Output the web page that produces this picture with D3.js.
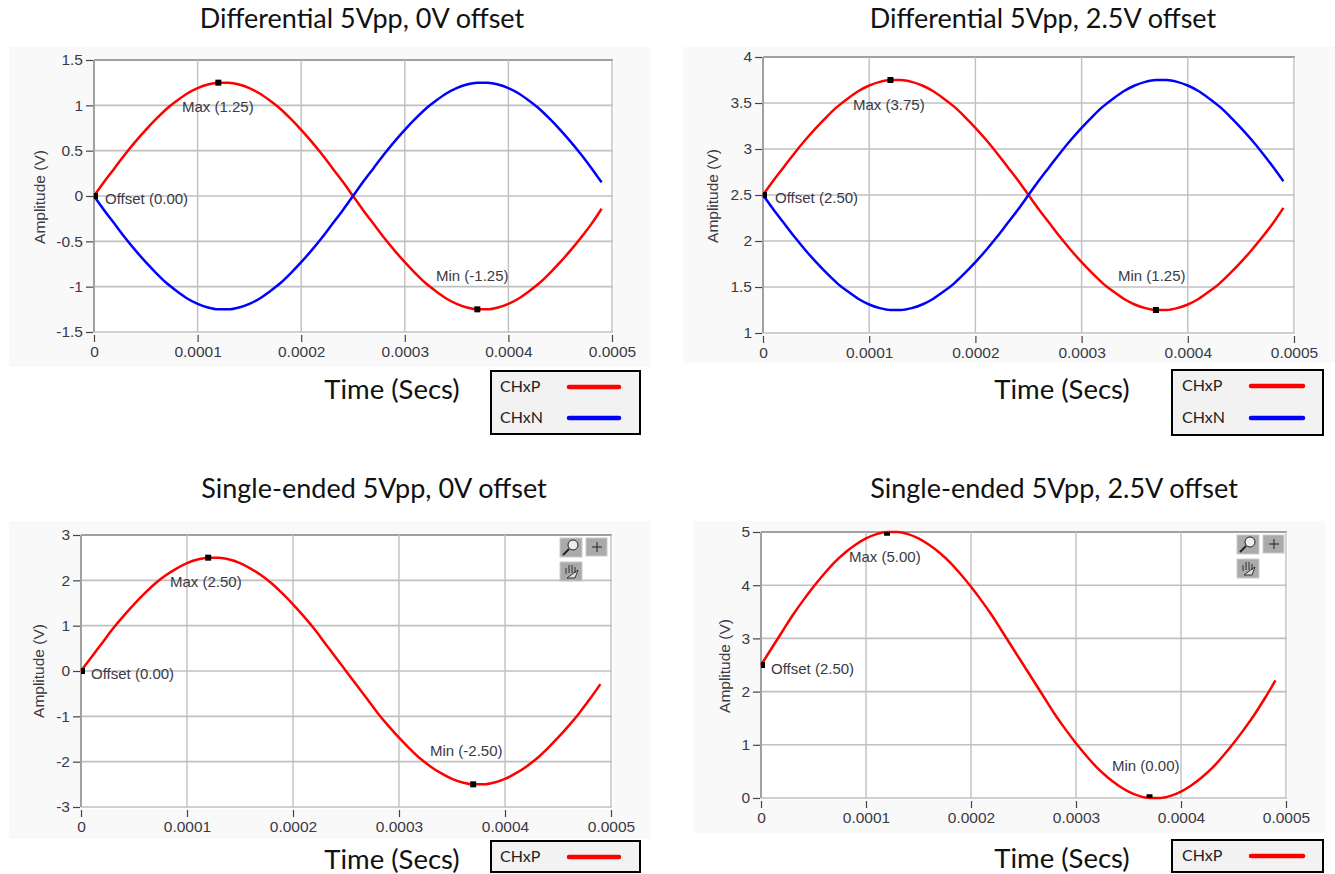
<!DOCTYPE html>
<html>
<head>
<meta charset="utf-8">
<script src="https://cdn.jsdelivr.net/npm/d3@7"></script>
<style>
  html, body { margin: 0; padding: 0; background: #fff; }
  svg { display: block; }
  .title, .time { font-family: Lato, "Open Sans", sans-serif; fill: #111; }
  .legend-text { font-family: Lato, "Open Sans", sans-serif; fill: #222; }
  .tick text, .note, .ylabel { font-family: "Liberation Sans", Arial, sans-serif; fill: #3a3a44; }
</style>
</head>
<body>
<svg id="chart" width="1335" height="874"></svg>
<script>
// 읽어낸 값: 10us 간격 샘플
const timeSecs = [0, 0.00001, 0.00002, 0.00003, 0.00004, 0.00005, 0.00006, 0.00007, 0.00008, 0.00009,
  0.0001, 0.00011, 0.00012, 0.00013, 0.00014, 0.00015, 0.00016, 0.00017, 0.00018, 0.00019,
  0.0002, 0.00021, 0.00022, 0.00023, 0.00024, 0.00025, 0.00026, 0.00027, 0.00028, 0.00029,
  0.0003, 0.00031, 0.00032, 0.00033, 0.00034, 0.00035, 0.00036, 0.00037, 0.00038, 0.00039,
  0.0004, 0.00041, 0.00042, 0.00043, 0.00044, 0.00045, 0.00046, 0.00047, 0.00048, 0.00049];

const diffP0 = [0, 0.16, 0.31, 0.46, 0.6, 0.73, 0.85, 0.96, 1.05, 1.13,
  1.19, 1.23, 1.25, 1.25, 1.23, 1.19, 1.13, 1.05, 0.96, 0.85,
  0.73, 0.6, 0.46, 0.31, 0.16, 0, -0.16, -0.31, -0.46, -0.6,
  -0.73, -0.85, -0.96, -1.05, -1.13, -1.19, -1.23, -1.25, -1.25, -1.23,
  -1.19, -1.13, -1.05, -0.96, -0.85, -0.73, -0.6, -0.46, -0.31, -0.14];
const diffN0 = [0, -0.16, -0.31, -0.46, -0.6, -0.73, -0.85, -0.96, -1.05, -1.13,
  -1.19, -1.23, -1.25, -1.25, -1.23, -1.19, -1.13, -1.05, -0.96, -0.85,
  -0.73, -0.6, -0.46, -0.31, -0.16, 0, 0.16, 0.31, 0.46, 0.6,
  0.73, 0.85, 0.96, 1.05, 1.13, 1.19, 1.23, 1.25, 1.25, 1.23,
  1.19, 1.13, 1.05, 0.96, 0.85, 0.73, 0.6, 0.46, 0.31, 0.15];
const diffP25 = [2.5, 2.66, 2.81, 2.96, 3.1, 3.23, 3.35, 3.46, 3.55, 3.63,
  3.69, 3.73, 3.75, 3.75, 3.73, 3.69, 3.63, 3.55, 3.46, 3.35,
  3.23, 3.1, 2.96, 2.81, 2.66, 2.5, 2.34, 2.19, 2.04, 1.9,
  1.77, 1.65, 1.54, 1.45, 1.37, 1.31, 1.27, 1.25, 1.25, 1.27,
  1.31, 1.37, 1.45, 1.54, 1.65, 1.77, 1.9, 2.04, 2.19, 2.36];
const diffN25 = [2.5, 2.34, 2.19, 2.04, 1.9, 1.77, 1.65, 1.54, 1.45, 1.37,
  1.31, 1.27, 1.25, 1.25, 1.27, 1.31, 1.37, 1.45, 1.54, 1.65,
  1.77, 1.9, 2.04, 2.19, 2.34, 2.5, 2.66, 2.81, 2.96, 3.1,
  3.23, 3.35, 3.46, 3.55, 3.63, 3.69, 3.73, 3.75, 3.75, 3.73,
  3.69, 3.63, 3.55, 3.46, 3.35, 3.23, 3.1, 2.96, 2.81, 2.65];
const singleP0 = [0, 0.31, 0.62, 0.93, 1.21, 1.47, 1.71, 1.93, 2.11, 2.26,
  2.38, 2.46, 2.5, 2.5, 2.46, 2.38, 2.26, 2.11, 1.93, 1.71,
  1.47, 1.21, 0.93, 0.62, 0.31, 0, -0.31, -0.62, -0.93, -1.21,
  -1.47, -1.71, -1.93, -2.11, -2.26, -2.38, -2.46, -2.5, -2.5, -2.46,
  -2.38, -2.26, -2.11, -1.93, -1.71, -1.47, -1.21, -0.93, -0.62, -0.29];
const singleP25 = [2.5, 2.81, 3.12, 3.43, 3.71, 3.97, 4.21, 4.43, 4.61, 4.76,
  4.88, 4.96, 5, 5, 4.96, 4.88, 4.76, 4.61, 4.43, 4.21,
  3.97, 3.71, 3.43, 3.12, 2.81, 2.5, 2.19, 1.88, 1.57, 1.29,
  1.03, 0.79, 0.57, 0.39, 0.24, 0.12, 0.04, 0, 0, 0.04,
  0.12, 0.24, 0.39, 0.57, 0.79, 1.03, 1.29, 1.57, 1.88, 2.21];

const xTicks = [0, 0.0001, 0.0002, 0.0003, 0.0004, 0.0005];
const xTickLabels = ['0', '0.0001', '0.0002', '0.0003', '0.0004', '0.0005'];
const yTicksDiff0 = [-1.5, -1, -0.5, 0, 0.5, 1, 1.5];
const yTicksDiff25 = [1, 1.5, 2, 2.5, 3, 3.5, 4];
const yTicksSingle0 = [-3, -2, -1, 0, 1, 2, 3];
const yTicksSingle25 = [0, 1, 2, 3, 4, 5];

const titles = ['Differential 5Vpp, 0V offset', 'Differential 5Vpp, 2.5V offset',
  'Single-ended 5Vpp, 0V offset', 'Single-ended 5Vpp, 2.5V offset'];
const offsetNotes = ['Offset (0.00)', 'Offset (2.50)', 'Offset (0.00)', 'Offset (2.50)'];
const maxNotes = ['Max (1.25)', 'Max (3.75)', 'Max (2.50)', 'Max (5.00)'];
const minNotes = ['Min (-1.25)', 'Min (1.25)', 'Min (-2.50)', 'Min (0.00)'];

const RED = '#ff0000';
const BLUE = '#0000ff';

// 패널별 배치 (데이터와 분리)
const panels = [
  { i: 0, bg: [9, 47, 651, 367], x: [94, 612], y: [332, 60], yDomain: [-1.5, 1.5], yTicks: yTicksDiff0,
    series: [[diffP0, RED], [diffN0, BLUE]], titleAt: [362, 28], ylabelX: 45, ylabelY: 197,
    offsetAt: [105, 204], maxAt: [182, 112], minAt: [436, 281], markH: 6,
    timeAt: [392, 399], legend: [491, 371, 640, 434], legendText: 500, legendLine: [569, 619], legendY: [387, 418], legendNames: ['CHxP', 'CHxN'] },
  { i: 1, bg: [683, 47, 1335, 363], x: [763, 1294], y: [333, 57], yDomain: [1, 4], yTicks: yTicksDiff25,
    series: [[diffP25, RED], [diffN25, BLUE]], titleAt: [1043, 28], ylabelX: 718, ylabelY: 196,
    offsetAt: [775, 203], maxAt: [853, 110], minAt: [1118, 281], markH: 6,
    timeAt: [1062, 399], legend: [1172, 370, 1323, 435], legendText: 1182, legendLine: [1251, 1303], legendY: [386, 418], legendNames: ['CHxP', 'CHxN'] },
  { i: 2, bg: [9, 521, 651, 839], x: [81, 611], y: [807, 535], yDomain: [-3, 3], yTicks: yTicksSingle0,
    series: [[singleP0, RED]], titleAt: [374, 498], ylabelX: 44, ylabelY: 671,
    offsetAt: [91, 679], maxAt: [170, 587], minAt: [430, 756], markH: 6,
    timeAt: [392, 869], legend: [491, 841, 640, 872], legendText: 500, legendLine: [569, 619], legendY: [857], legendNames: ['CHxP'],
    tools: [560, 538] },
  { i: 3, bg: [694, 521, 1326, 833], x: [761, 1286], y: [798, 532], yDomain: [0, 5], yTicks: yTicksSingle25,
    series: [[singleP25, RED]], titleAt: [1054, 498], ylabelX: 730, ylabelY: 666,
    offsetAt: [771, 674], maxAt: [849, 562], minAt: [1112, 771], markH: 3.5,
    timeAt: [1062, 868], legend: [1172, 840, 1323, 872], legendText: 1182, legendLine: [1251, 1303], legendY: [856], legendNames: ['CHxP'],
    tools: [1237, 535] }
];

const svg = d3.select('#chart');
panels.forEach(drawPanel);

function drawPanel(p) {
  const g = svg.append('g');
  const xScale = d3.scaleLinear().domain([0, 0.0005]).range(p.x);
  const yScale = d3.scaleLinear().domain(p.yDomain).range(p.y);

  // 회색 패널 배경
  g.append('rect').attr('x', p.bg[0]).attr('y', p.bg[1])
    .attr('width', p.bg[2] - p.bg[0]).attr('height', p.bg[3] - p.bg[1]).attr('fill', '#f9f9f9');
  g.append('rect').attr('x', p.x[0]).attr('y', p.y[1])
    .attr('width', p.x[1] + 2 - p.x[0]).attr('height', p.y[0] + 2 - p.y[1]).attr('fill', '#fff');

  // 격자
  g.append('g').selectAll('line').data(p.yTicks).join('line')
    .attr('x1', p.x[0]).attr('x2', p.x[1] + 1)
    .attr('y1', d => yScale(d)).attr('y2', d => yScale(d))
    .attr('stroke', d => d === p.yDomain[1] ? '#a0a0a0' : '#c0c0c0').attr('stroke-width', d => d === p.yDomain[1] ? 2 : 1.6);
  g.append('g').selectAll('line').data(xTicks).join('line')
    .attr('x1', d => xScale(d)).attr('x2', d => xScale(d))
    .attr('y1', p.y[1]).attr('y2', p.y[0])
    .attr('stroke', (d, i) => i === 0 ? '#a0a0a0' : '#c0c0c0').attr('stroke-width', (d, i) => i === 0 ? 2 : 1.4);

  // 축
  const yAxis = d3.axisLeft(yScale).tickValues(p.yTicks).tickSize(7).tickPadding(3).tickFormat(d => d3.format('~g')(d).replace('\u2212', '-'));
  const yG = g.append('g').attr('transform', `translate(${p.x[0] - 1},0)`).call(yAxis);
  const xAxis = d3.axisBottom(xScale).tickValues(xTicks).tickSize(7).tickPadding(4).tickFormat((d, i) => xTickLabels[i]);
  const xG = g.append('g').attr('transform', `translate(0,${p.y[0] + 3})`).call(xAxis);
  [yG, xG].forEach(a => {
    a.select('.domain').remove();
    a.selectAll('.tick line').attr('stroke', '#444').attr('stroke-width', 1.2);
    a.selectAll('.tick text').attr('font-size', 15.5);
  });

  // 곡선
  const line = d3.line().x((d, i) => xScale(timeSecs[i])).y(d => yScale(d)).curve(d3.curveMonotoneX);
  p.series.forEach(([values, color]) => {
    g.append('path').attr('d', line(values)).attr('fill', 'none')
      .attr('stroke', color).attr('stroke-width', 2.5).attr('stroke-linejoin', 'round');
  });

  // 마커 + 라벨
  const first = p.series[0][0];
  const markIdx = [0, 12, 37];
  g.append('g').selectAll('rect').data(markIdx).join('rect')
    .attr('x', d => d === 0 ? xScale(0) : xScale(timeSecs[d]) - 3)
    .attr('y', d => yScale(first[d]) - (d === 0 ? 3 : p.markH / 2) + (p.markH < 6 && d === 12 ? 2 : 0) - (p.markH < 6 && d === 37 ? 2 : 0))
    .attr('width', d => d === 0 ? 4 : 6).attr('height', d => d === 0 ? 6 : p.markH).attr('fill', '#000');
  [[offsetNotes, p.offsetAt], [maxNotes, p.maxAt], [minNotes, p.minAt]].forEach(([notes, at]) => {
    g.append('text').attr('class', 'note').attr('x', at[0]).attr('y', at[1])
      .attr('font-size', 15).text(notes[p.i]);
  });

  g.append('text').attr('class', 'ylabel')
    .attr('transform', `translate(${p.ylabelX},${p.ylabelY}) rotate(-90)`)
    .attr('text-anchor', 'middle').attr('font-size', 15.5).text('Amplitude (V)');

  g.append('text').attr('class', 'title').attr('x', p.titleAt[0]).attr('y', p.titleAt[1])
    .attr('text-anchor', 'middle').attr('font-size', 27).text(titles[p.i]);
  g.append('text').attr('class', 'time').attr('x', p.timeAt[0]).attr('y', p.timeAt[1])
    .attr('text-anchor', 'middle').attr('font-size', 27.5).text('Time (Secs)');

  drawLegend(g, p);
  if (p.tools) drawTools(g, p.tools[0], p.tools[1]);
}

function drawLegend(g, p) {
  const [x0, y0, x1, y1] = p.legend;
  g.append('rect').attr('x', x0).attr('y', y0).attr('width', x1 - x0).attr('height', y1 - y0)
    .attr('fill', '#f2f2f2').attr('stroke', '#000').attr('stroke-width', 2);
  p.legendNames.forEach((name, i) => {
    const cy = p.legendY[i];
    g.append('text').attr('class', 'legend-text').attr('x', p.legendText).attr('y', cy + 5)
      .attr('font-size', 16).text(name);
    g.append('line').attr('x1', p.legendLine[0]).attr('x2', p.legendLine[1]).attr('y1', cy).attr('y2', cy)
      .attr('stroke', i === 0 ? RED : BLUE).attr('stroke-width', 4.5).attr('stroke-linecap', 'round');
  });
}

// 확대/이동 도구 버튼
function drawTools(g, x, y) {
  const btn = (bx, by, w, h) => g.append('rect').attr('x', bx).attr('y', by).attr('width', w).attr('height', h)
    .attr('fill', '#aaa').attr('stroke', '#ccc');
  btn(x, y, 22, 19);
  btn(x + 26, y, 21, 18);
  btn(x, y + 24, 22, 19);
  g.append('circle').attr('cx', x + 13).attr('cy', y + 7).attr('r', 5).attr('fill', '#eee').attr('stroke', '#222');
  g.append('line').attr('x1', x + 9).attr('y1', y + 11).attr('x2', x + 3).attr('y2', y + 17).attr('stroke', '#222').attr('stroke-width', 2);
  g.append('path').attr('d', `M${x + 32},${y + 9}h10M${x + 37},${y + 4}v10`).attr('stroke', '#222').attr('fill', 'none');
  g.append('path').attr('d', `M${x + 6},${y + 36}v-6m3,5v-8m3,8v-8m3,8v-6m0,5l3,-2l-3,8h-8z`).attr('stroke', '#222').attr('fill', '#ddd').attr('stroke-width', 0.9);
}
</script>
</body>
</html>
